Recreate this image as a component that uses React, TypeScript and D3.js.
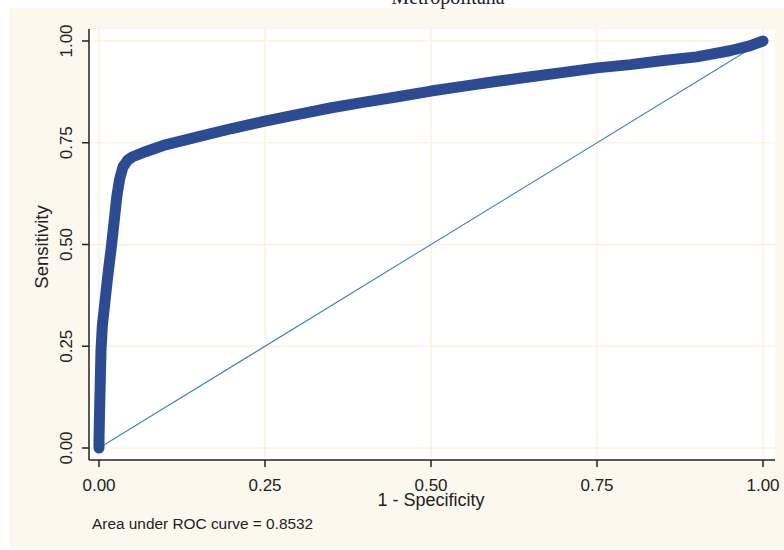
import React from "react";
import * as d3 from "d3";

const fprValues = [0, 0, 0.001, 0.002, 0.003, 0.005, 0.009, 0.013, 0.016, 0.019, 0.023, 0.027, 0.031, 0.036, 0.043, 0.05, 0.07, 0.1, 0.15, 0.2, 0.25, 0.3, 0.35, 0.4, 0.45, 0.5, 0.55, 0.6, 0.65, 0.7, 0.75, 0.8, 0.85, 0.9, 0.95, 0.98, 1];
const sensValues = [0, 0.02, 0.1, 0.17, 0.24, 0.3, 0.36, 0.42, 0.46, 0.5, 0.56, 0.62, 0.66, 0.69, 0.707, 0.715, 0.728, 0.745, 0.765, 0.785, 0.803, 0.82, 0.836, 0.85, 0.863, 0.877, 0.889, 0.901, 0.912, 0.923, 0.934, 0.942, 0.952, 0.961, 0.976, 0.988, 1];
const tickValues = [0, 0.25, 0.5, 0.75, 1];
const tickLabels = ["0.00", "0.25", "0.50", "0.75", "1.00"];
const titleText = "Metropolitana";
const xTitle = "1 - Specificity";
const yTitle = "Sensitivity";
const noteText = "Area under ROC curve = 0.8532";

export default function App() {
  const W = 784, H = 550;
  const x = d3.scaleLinear().domain([0, 1]).range([99, 763]);
  const y = d3.scaleLinear().domain([0, 1]).range([448, 41]);
  const pts: [number, number][] = fprValues.map((f, i) => [f, sensValues[i]]);
  const line = d3.line<[number, number]>().x(d => x(d[0])).y(d => y(d[1]));
  const font = "'Liberation Sans', Arial, sans-serif";
  const plotL = 89, plotR = 775, plotT = 29, plotB = 460;
  return (
    <svg width={W} height={H} style={{ position: "absolute", left: 0, top: 0 }}>
      <rect x={0} y={0} width={W} height={H} fill="#ffffff" />
      <rect x={10} y={8} width={W - 10} height={540} fill="#fcf8ed" />
      <text x={448} y={4} textAnchor="middle" fontFamily="'Liberation Serif', 'Times New Roman', serif" fontSize={20} fill="#222">{titleText}</text>
      <rect x={plotL} y={plotT} width={plotR - plotL} height={plotB - plotT} fill="#ffffff" />
      {tickValues.map((t, i) => (
        <g key={"g" + i}>
          <line x1={plotL} x2={plotR} y1={y(t)} y2={y(t)} stroke="#fbf3df" strokeWidth={1.5} />
          <line x1={x(t)} x2={x(t)} y1={plotT} y2={plotB} stroke="#fbf3df" strokeWidth={1.5} />
        </g>
      ))}
      <path d={line([[0, 0], [1, 1]]) || ""} fill="none" stroke="#3f86ab" strokeWidth={1.1} />
      <path d={line(pts) || ""} fill="none" stroke="#2d4b93" strokeWidth={11} strokeLinejoin="round" strokeLinecap="round" />
      <line x1={plotL} x2={plotL} y1={plotT} y2={plotB} stroke="#222" strokeWidth={1.5} />
      <line x1={plotL} x2={plotR} y1={plotB} y2={plotB} stroke="#222" strokeWidth={1.5} />
      {tickValues.map((t, i) => (
        <g key={"t" + i}>
          <line x1={plotL - 7} x2={plotL} y1={y(t)} y2={y(t)} stroke="#222" strokeWidth={1.5} />
          <text transform={`translate(72,${y(t)}) rotate(-90)`} textAnchor="middle" fontFamily={font} fontSize={17} fill="#222">{tickLabels[i]}</text>
          <line x1={x(t)} x2={x(t)} y1={plotB} y2={plotB + 7} stroke="#222" strokeWidth={1.5} />
          <text x={x(t)} y={491} textAnchor="middle" fontFamily={font} fontSize={17} fill="#222">{tickLabels[i]}</text>
        </g>
      ))}
      <text x={431} y={506} textAnchor="middle" fontFamily={font} fontSize={18} fill="#222">{xTitle}</text>
      <text transform="translate(48,247) rotate(-90)" textAnchor="middle" fontFamily={font} fontSize={18.5} fill="#222">{yTitle}</text>
      <text x={92} y={529} fontFamily={font} fontSize={15.4} fill="#222">{noteText}</text>
    </svg>
  );
}
